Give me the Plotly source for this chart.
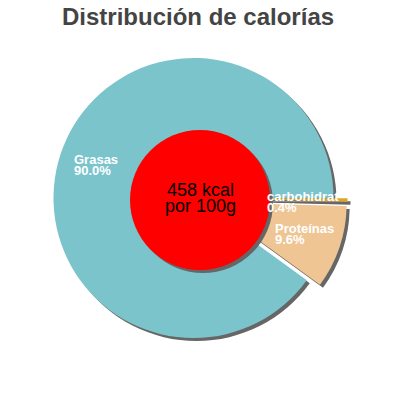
import plotly.graph_objects as go

# Nutrient split, energy per 100 g
nutrients = ["Grasas", "carbohidratos", "Proteínas"]
shown_names = ["Grasas", "carbohidrat", "Proteínas"]  # name is cut off in the picture
percents = [90.0, 0.4, 9.6]
pulled = [0, 0.1, 0.1]
slice_colors = ["#7bc4cc", "#dca524", "#eec593"]
kcal = 458

W = H = 400
PAGE = 8  # the page body margin pushes the figure 8 px right and down
SHADOW = "#666666"
FONT = "Liberation Sans"


def px_x(x):
    return (x - PAGE) / W


def px_y(y):
    # pixel from the top of the window -> paper fraction from the bottom
    return 1 - (y - PAGE) / H


def pie(colors, dx=0, dy=0):
    # pie centre (193.5, 198) px, radius 140 px, pull 0.1 -> box 308 px
    half = 154
    cx, cy = 193.5 + dx, 198 + dy
    return go.Pie(labels=nutrients, values=percents, pull=pulled,
                  sort=False, direction="clockwise", rotation=126,
                  marker=dict(colors=colors, line=dict(width=0)),
                  textinfo="none", hoverinfo="label+percent",
                  showlegend=False,
                  domain=dict(x=[px_x(cx - half), px_x(cx + half)],
                              y=[px_y(cy + half), px_y(cy - half)]))


fig = go.Figure()
fig.add_trace(pie([SHADOW] * len(percents), dx=3, dy=3))
fig.add_trace(pie(slice_colors))

# red centre disc with its shadow
for dx, colour in ((3, SHADOW), (0, "#ff0000")):
    fig.add_shape(type="circle", xref="paper", yref="paper", layer="above",
                  x0=px_x(130 + dx), x1=px_x(270 + dx),
                  y0=px_y(270 + dx), y1=px_y(130 + dx),
                  fillcolor=colour, line=dict(width=0))


def note(text, x, y, size, color="white", anchor="left", bold=True):
    fig.add_annotation(text=text, xref="paper", yref="paper",
                       x=px_x(x), y=px_y(y), xanchor=anchor, yanchor="middle",
                       showarrow=False,
                       font=dict(family=FONT, size=size, color=color,
                                 weight="bold" if bold else "normal"))


# label spots (x left, y of the two lines) in px
spots = [(72, 159.5, 170.5), (265, 196, 207), (273, 228, 239.5)]
for name, pct, (x, y1, y2) in zip(shown_names, percents, spots):
    note(name, x, y1, 13)
    note(f"{pct:.1f}%", x, y2, 13)

note(f"{kcal} kcal", 200, 189.5, 18, color="black", anchor="center", bold=False)
note("por 100g", 200, 206, 18, color="black", anchor="center", bold=False)

note("Distribución de calorías", 198, 16.5, 24, color="#444444",
     anchor="center")

fig.update_layout(width=W, height=H, margin=dict(l=0, r=0, t=0, b=0),
                  paper_bgcolor="white", plot_bgcolor="white")

fig.write_html("out.html")
